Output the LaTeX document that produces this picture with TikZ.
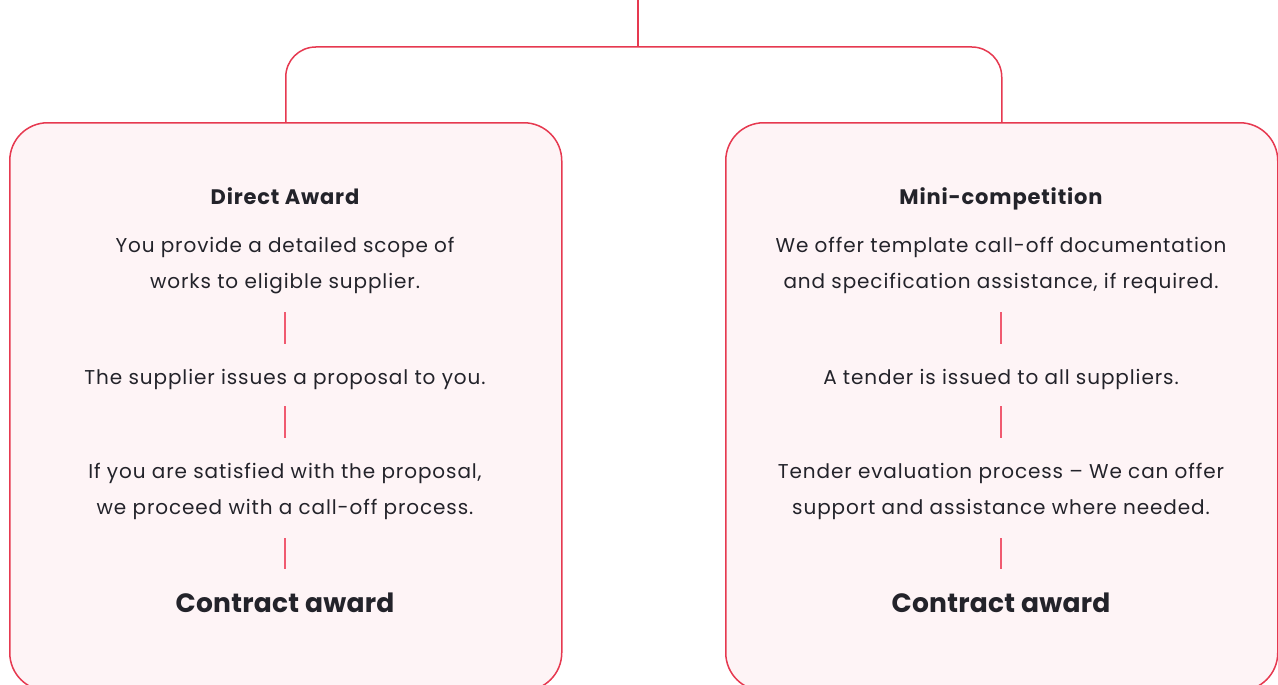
\documentclass[tikz,border=0pt]{standalone}
\usepackage{fontspec}
\setmainfont{Poppins}
\newfontfamily\bodyfont[LetterSpace=4.5]{Poppins}
\newfontfamily\headfont[LetterSpace=4]{Poppins}
\newfontfamily\bigfont[LetterSpace=1]{Poppins}
\definecolor{mainred}{RGB}{230,57,80}
\definecolor{boxfill}{RGB}{254,244,246}
\definecolor{txt}{RGB}{35,35,42}
\definecolor{steplinecol}{RGB}{240,90,112}
\tikzset{
  boxnode/.style={draw=mainred, line width=1.5pt, fill=boxfill, rounded corners=38pt, minimum width=552pt, minimum height=568pt, anchor=north west, inner sep=0pt},
  conn/.style={draw=mainred, line width=1.5pt},
  stepline/.style={draw=steplinecol, line width=1.5pt},
  body/.style={font=\bodyfont\fontsize{20}{36}\selectfont, text=txt, anchor=base, align=center, inner sep=0pt},
  head/.style={font=\headfont\fontsize{21}{24}\selectfont\bfseries, text=txt, anchor=base, inner sep=0pt},
  big/.style={font=\bigfont\fontsize{26.5}{30}\selectfont\bfseries, text=txt, anchor=base, inner sep=0pt}
}
\begin{document}
\begin{tikzpicture}[x=1pt,y=-1pt]
\useasboundingbox (0,0) rectangle (1278,685);
\begin{scope}
\clip (0,0) rectangle (1278,685);
\node[boxnode] (lbox) at (9,122) {};
\node[boxnode] (rbox) at (725,122) {};
\end{scope}
\coordinate (top) at (638,0);
\coordinate (hub) at (638,47);
\draw[conn] (top) -- (hub);
\draw[conn, rounded corners=30pt] (lbox.north) -- (lbox.north |- hub) -- (rbox.north |- hub) -- (rbox.north);
% left column
\node[head] (lh) at (285,204) {Direct Award};
\node[body] (l1a) at (285,252) {You provide a detailed scope of};
\node[body] (l1b) at (285,288) {works to eligible supplier.};
\coordinate (ls1a) at (285,312); \coordinate (ls1b) at (285,344);
\draw[stepline] (ls1a) -- (ls1b);
\node[body] (l2) at (285,384) {The supplier issues a proposal to you.};
\coordinate (ls2a) at (285,406); \coordinate (ls2b) at (285,438);
\draw[stepline] (ls2a) -- (ls2b);
\node[body] (l3a) at (285,478) {If you are satisfied with the proposal,};
\node[body] (l3b) at (285,514) {we proceed with a call-off process.};
\coordinate (ls3a) at (285,538); \coordinate (ls3b) at (285,569);
\draw[stepline] (ls3a) -- (ls3b);
\node[big] (lc) at (285,612) {Contract award};
% right column
\node[head] (rh) at (1001,204) {Mini-competition};
\node[body] (r1a) at (1001,252) {We offer template call-off documentation};
\node[body] (r1b) at (1001,288) {and specification assistance, if required.};
\coordinate (rs1a) at (1001,312); \coordinate (rs1b) at (1001,344);
\draw[stepline] (rs1a) -- (rs1b);
\node[body] (r2) at (1001,384) {A tender is issued to all suppliers.};
\coordinate (rs2a) at (1001,406); \coordinate (rs2b) at (1001,438);
\draw[stepline] (rs2a) -- (rs2b);
\node[body] (r3a) at (1001,478) {Tender evaluation process – We can offer};
\node[body] (r3b) at (1001,514) {support and assistance where needed.};
\coordinate (rs3a) at (1001,538); \coordinate (rs3b) at (1001,569);
\draw[stepline] (rs3a) -- (rs3b);
\node[big] (rc) at (1001,612) {Contract award};
\end{tikzpicture}
\end{document}
